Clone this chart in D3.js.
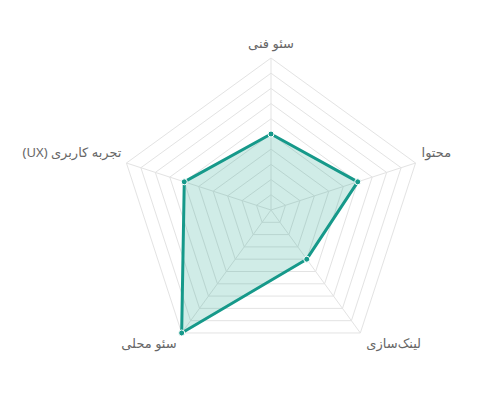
<!DOCTYPE html>
<html>
<head>
<meta charset="utf-8">
<script src="https://cdn.jsdelivr.net/npm/d3@7"></script>
<style>
  body { margin: 0; background: #fff; }
</style>
</head>
<body>
<div id="chart"></div>
<script>
const categories = ["سئو فنی", "محتوا", "لینک‌سازی", "سئو محلی", "تجربه کاربری (UX)"];
const scores = [50, 60, 40, 100, 60];
const ringSteps = [10, 20, 30, 40, 50, 60, 70, 80, 90, 100];

function drawRadar() {
    const width = 496, height = 400;
    const cx = 271, cy = 210, radius = 152;

    const svg = d3.select("#chart")
        .append("svg")
        .attr("width", width)
        .attr("height", height);

    const g = svg.append("g").attr("transform", `translate(${cx}, ${cy})`);

    const r = d3.scaleLinear().domain([0, 100]).range([0, radius]);
    const angle = d3.scalePoint().domain(categories).range([0, 2 * Math.PI * (categories.length - 1) / categories.length]);

    const pos = (cat, v) => [Math.sin(angle(cat)) * r(v), -Math.cos(angle(cat)) * r(v)];

    // rings
    g.selectAll(".ring")
        .data(ringSteps)
        .join("polygon")
        .attr("points", d => categories.map(c => pos(c, d).join(",")).join(" "))
        .style("fill", "none")
        .style("stroke", "#e3e3e3")
        .style("stroke-width", 1);

    // spokes
    g.selectAll(".spoke")
        .data(categories)
        .join("line")
        .attr("x1", 0).attr("y1", 0)
        .attr("x2", d => pos(d, 100)[0])
        .attr("y2", d => pos(d, 100)[1])
        .style("stroke", "#e3e3e3")
        .style("stroke-width", 1);

    // data area
    const line = d3.lineRadial()
        .angle((d, i) => angle(categories[i]))
        .radius(d => r(d))
        .curve(d3.curveLinearClosed);

    g.append("path")
        .datum(scores)
        .attr("d", line)
        .style("fill", "rgba(22,160,133,0.2)")
        .style("stroke", "#16998a")
        .style("stroke-width", 3)
        .style("stroke-linejoin", "round");

    g.selectAll(".pt")
        .data(scores)
        .join("circle")
        .attr("cx", (d, i) => pos(categories[i], d)[0])
        .attr("cy", (d, i) => pos(categories[i], d)[1])
        .attr("r", 3)
        .style("fill", "#16998a")
        .style("stroke", "#fff")
        .style("stroke-width", 1);

    // labels (rtl: "end" is the left edge, "start" the right edge)
    g.selectAll(".lbl")
        .data(categories)
        .join("text")
        .attr("x", d => {
            const p = pos(d, 100);
            const s = Math.sin(angle(d));
            return p[0] + (Math.abs(s) < 0.1 ? 0 : (s > 0 ? 6 : -5));
        })
        .attr("y", d => {
            const p = pos(d, 100);
            const c = Math.cos(angle(d));
            if (c > 0.9) return p[1] - 13;
            if (c < -0.5) return p[1] + 12;
            return p[1] - 10;
        })
        .attr("text-anchor", d => {
            const s = Math.sin(angle(d));
            if (Math.abs(s) < 0.1) return "middle";
            return s > 0 ? "end" : "start";
        })
        .attr("dominant-baseline", "middle")
        .attr("direction", "rtl")
        .style("font-family", "'Noto Sans', 'DejaVu Sans', sans-serif")
        .style("font-size", "13px")
        .style("fill", "#666")
        .text(d => d);
}

drawRadar();
</script>
</body>
</html>
